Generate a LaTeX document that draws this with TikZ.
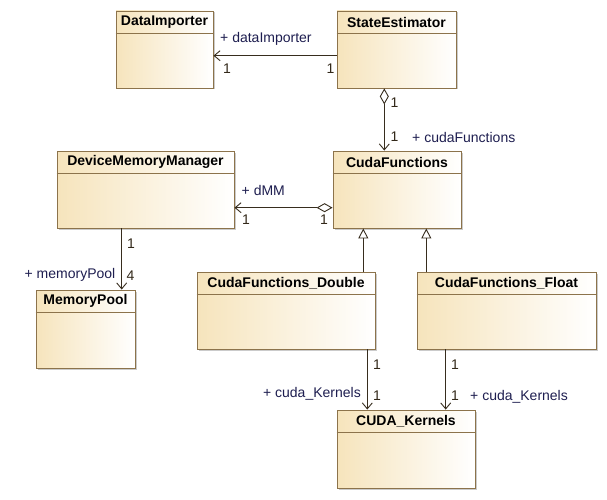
\documentclass[tikz,border=0pt]{standalone}
\usepackage{fontspec}
\setmainfont{Liberation Sans}
\usetikzlibrary{arrows.meta,shadows}
\definecolor{boxborder}{RGB}{140,115,75}
\definecolor{boxfill}{RGB}{246,228,188}
\definecolor{rolecol}{RGB}{30,30,80}
\definecolor{multcol}{RGB}{50,40,25}
\definecolor{linecol}{RGB}{55,45,30}
\newcommand{\umlclass}[6]{%
  \node[classbox, minimum width=#4pt, minimum height=#5pt] (#1) at (#2,#3) {};
  \draw[boxborder, line width=0.9pt] ([yshift=-23pt]#1.north west) -- ([yshift=-23pt]#1.north east);
  \node[classtitle] (#1-t) at ([yshift=-11.5pt]#1.north) {#6};}
\begin{document}
\begin{tikzpicture}[x=1pt,y=-1pt,
  classbox/.style={draw=boxborder, line width=0.9pt, left color=boxfill, right color=white, inner sep=0pt,
    drop shadow={shadow xshift=1.5pt, shadow yshift=-1.5pt, fill=black!40, opacity=0.5}},
  classtitle/.style={font=\fontsize{14}{16}\selectfont\bfseries, inner sep=0pt},
  role/.style={font=\fontsize{14}{16}\selectfont, text=rolecol, inner sep=0pt},
  mult/.style={font=\fontsize{14}{16}\selectfont, text=multcol, inner sep=0pt},
  conn/.style={draw=linecol, line width=0.9pt},
  navarrow/.style={conn, -{Straight Barb[length=6pt,width=10pt]}},
  aggarrow/.style={conn, {Diamond[open,length=16pt,width=9pt]}-{Straight Barb[length=6pt,width=10pt]}},
  genarrow/.style={conn, -{Triangle[open,length=10pt,width=10pt]}}
]
\fill[white] (0,0) rectangle (607,500);
\useasboundingbox (0,0) rectangle (607,500);

\umlclass{DI}{164.5}{49.5}{97}{77}{DataImporter}
\umlclass{SE}{396.5}{49.5}{119}{77}{StateEstimator}
\umlclass{DMM}{145.5}{189.5}{177}{77}{DeviceMemoryManager}
\umlclass{CF}{397}{189.5}{128}{77}{CudaFunctions}
\umlclass{MP}{85.5}{329}{99}{78}{MemoryPool}
\umlclass{CFD}{286}{310.5}{178}{77}{CudaFunctions\_Double}
\umlclass{CFF}{506.5}{310.5}{179}{77}{CudaFunctions\_Float}
\umlclass{CK}{406}{449}{138}{78}{CUDA\_Kernels}

% connectors
\draw[navarrow] ([yshift=-6.2pt]SE.west) -- ([yshift=-6.2pt]DI.east);
\draw[aggarrow] ([xshift=-12.2pt]SE.south) -- ([xshift=-12.7pt]CF.north);
\draw[aggarrow] ([yshift=-18.2pt]CF.west) -- ([yshift=-18.2pt]DMM.east);
\draw[navarrow] ([xshift=-23.8pt]DMM.south) -- ([xshift=36.2pt]MP.north);
\draw[genarrow] ([xshift=77.3pt]CFD.north) -- ([xshift=-33.7pt]CF.south);
\draw[genarrow] ([xshift=-80.2pt]CFF.north) -- ([xshift=29.3pt]CF.south);
\draw[navarrow] ([xshift=81.3pt]CFD.south) -- ([xshift=-38.7pt]CK.north);
\draw[navarrow] ([xshift=-60.8pt]CFF.south) -- ([xshift=39.7pt]CK.north);

% labels
\node[role, anchor=west] (l1) at (220,39) {+ dataImporter};
\node[mult, anchor=west] (m1) at (223,69) {1};
\node[mult, anchor=west] (m2) at (326.5,69) {1};
\node[mult, anchor=west] (m3) at (390.5,103) {1};
\node[mult, anchor=west] (m4) at (390.5,137) {1};
\node[role, anchor=west] (l2) at (412,137) {+ cudaFunctions};
\node[role, anchor=west] (l3) at (241.5,190.5) {+ dMM};
\node[mult, anchor=west] (m5) at (242,220) {1};
\node[mult, anchor=west] (m6) at (320,220) {1};
\node[mult, anchor=west] (m7) at (127,244) {1};
\node[mult, anchor=west] (m8) at (126.5,276) {4};
\node[role, anchor=east] (l4) at (115.5,275) {+ memoryPool};
\node[mult, anchor=west] (m9) at (373,365) {1};
\node[mult, anchor=west] (m10) at (373,396) {1};
\node[role, anchor=east] (l5) at (361,394) {+ cuda\_Kernels};
\node[mult, anchor=west] (m11) at (451,365) {1};
\node[mult, anchor=west] (m12) at (451,396) {1};
\node[role, anchor=west] (l6) at (470,396.5) {+ cuda\_Kernels};
\end{tikzpicture}
\end{document}
